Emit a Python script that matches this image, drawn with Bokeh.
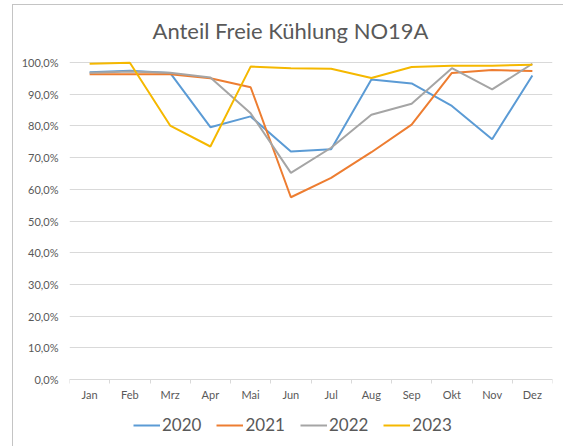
from bokeh.plotting import figure
from bokeh.models import (Range1d, FixedTicker, CustomJSTickFormatter, Legend, LegendItem, Label)
from bokeh.embed import file_html
from bokeh.resources import INLINE

title_text = "Anteil Freie Kühlung NO19A"
months = ["Jan", "Feb", "Mrz", "Apr", "Mai", "Jun", "Jul", "Aug", "Sep", "Okt", "Nov", "Dez"]
y2020 = [96.9, 97.4, 96.7, 79.6, 83.0, 71.9, 72.6, 94.6, 93.4, 86.3, 75.8, 95.9]
y2021 = [96.3, 96.3, 96.3, 95.0, 92.2, 57.5, 63.6, 71.7, 80.4, 96.7, 97.6, 97.3]
y2022 = [96.8, 97.2, 96.8, 95.3, 84.0, 65.2, 73.1, 83.5, 87.0, 98.2, 91.5, 99.6]
y2023 = [99.6, 99.9, 80.1, 73.5, 98.7, 98.2, 98.0, 95.1, 98.6, 99.0, 99.0, 99.3]
series_names = ["2020", "2021", "2022", "2023"]
series_colors = ["#5B9BD5", "#ED7D31", "#A5A5A5", "#F5B800"]
y_ticks = [0, 10, 20, 30, 40, 50, 60, 70, 80, 90, 100]

FONT = "Lato"
GRAY = "#595959"
LIGHT = "#d9d9d9"

x = [i + 0.5 for i in range(len(months))]

# the plot frame spans the full height: value 100 sits 62px below the top,
# value 0 sits 67px above the bottom (317px for 0..100)
PX_PER_UNIT = 317 / 100
Y_BOTTOM = -67 / PX_PER_UNIT
Y_TOP = 100 + 62 / PX_PER_UNIT

p = figure(width=563, height=446, output_backend="svg", toolbar_location=None,
           x_range=Range1d(0, len(months)), y_range=Range1d(Y_BOTTOM, Y_TOP),
           min_border_left=69, min_border_right=11, min_border_top=0, min_border_bottom=0)
p.outline_line_color = None
p.background_fill_color = None
p.border_fill_color = None
p.styles = {
    "background": ("linear-gradient(to right, transparent 12px, #c4c4c4 12px, #c4c4c4 13px, transparent 13px) 0 4px / 100% 100% no-repeat, "
                   "linear-gradient(to bottom, transparent 4px, #c4c4c4 4px, #c4c4c4 5px, transparent 5px) 12px 0 / 100% 100% no-repeat, white"),
}

# title
p.add_layout(Label(x=221, y=416, x_units="screen", y_units="screen", text=title_text,
                   text_font=FONT, text_font_size="22px", text_color=GRAY,
                   text_align="center", text_baseline="middle"))

# y axis
p.yaxis.ticker = FixedTicker(ticks=y_ticks)
p.yaxis.formatter = CustomJSTickFormatter(code="return tick.toFixed(1).replace('.', ',') + '%';")
p.yaxis.axis_line_color = None
p.yaxis.major_tick_line_color = None
p.yaxis.minor_tick_line_color = None
p.yaxis.major_tick_out = 0
p.yaxis.major_label_text_font = FONT
p.yaxis.major_label_text_font_size = "11px"
p.yaxis.major_label_text_color = GRAY
p.yaxis.major_label_standoff = 11

# x axis, pinned at value 0
p.xaxis.fixed_location = 0
p.xaxis.ticker = FixedTicker(ticks=x, minor_ticks=list(range(len(months) + 1)))
p.xaxis.major_label_overrides = {xi: m for xi, m in zip(x, months)}
p.xaxis.axis_line_color = LIGHT
p.xaxis.major_tick_line_color = None
p.xaxis.major_tick_out = 0
p.xaxis.major_tick_in = 0
p.xaxis.minor_tick_line_color = LIGHT
p.xaxis.minor_tick_out = 4
p.xaxis.minor_tick_in = 0
p.xaxis.major_label_text_font = FONT
p.xaxis.major_label_text_font_size = "11px"
p.xaxis.major_label_text_color = GRAY
p.xaxis.major_label_standoff = 4

p.xgrid.grid_line_color = None
p.ygrid.grid_line_color = LIGHT
p.ygrid.ticker = FixedTicker(ticks=y_ticks)

items = []
for name, col, ys in zip(series_names, series_colors, [y2020, y2021, y2022, y2023]):
    r = p.line(x, ys, line_color=col, line_width=2)
    items.append(LegendItem(label=name, renderers=[r]))

legend = Legend(items=items, orientation="horizontal", location=(64, 11),
                label_text_font=FONT, label_text_font_size="17px", label_text_color=GRAY,
                glyph_width=27, glyph_height=18, label_standoff=2, spacing=15,
                border_line_color=None, background_fill_alpha=0, padding=0, margin=0)
p.add_layout(legend)

open("out.html", "w").write(file_html(p, INLINE))
